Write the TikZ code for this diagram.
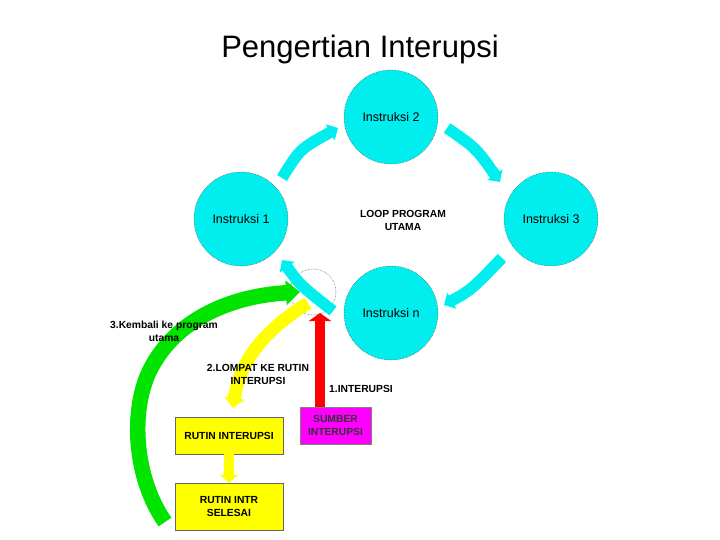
\documentclass[tikz,border=0pt]{standalone}
\usepackage{fontspec}
\setmainfont{Liberation Sans}
\usetikzlibrary{arrows.meta}
\definecolor{cy}{RGB}{0,238,238}
\definecolor{yel}{RGB}{255,255,0}
\definecolor{mag}{RGB}{255,0,255}
\definecolor{grn}{RGB}{0,228,0}
\definecolor{rd}{RGB}{255,0,0}
\begin{document}
\begin{tikzpicture}[x=1pt,y=-1pt,
  instr/.style={circle,fill=cy,draw=black!70,densely dotted,line width=0.5pt,minimum size=94pt,inner sep=0pt,font=\fontsize{12.5}{14}\selectfont},
  lbl/.style={font=\bfseries\fontsize{10.3}{13}\selectfont,align=center,inner sep=0pt},
  ybox/.style={fill=yel,draw=black!60,line width=0.4pt,minimum width=108pt,inner sep=0pt,align=center,font=\bfseries\fontsize{10.3}{13}\selectfont},
  cyarrow/.style={draw=cy,line width=11.5pt,-{Triangle[width=18pt,length=9pt]}},
]
\useasboundingbox (0,0) rectangle (720,540);
\fill[white] (0,0) rectangle (720,540);
\node (title) at (360,49) {\fontsize{31}{35}\selectfont Pengertian Interupsi};

% circles
\node[instr] (i2) at (391,117) {Instruksi 2};
\node[instr] (i1) at (241,219) {Instruksi 1};
\node[instr] (i3) at (551,219) {Instruksi 3};
\node[instr] (in) at (391,313) {Instruksi n};

% dotted marker
\node[circle,draw=black!70,densely dotted,line width=0.5pt,minimum size=46pt,inner sep=0pt] (mark) at (313,292) {};

% cyan loop arrows
\coordinate (a1s) at (282,178); \coordinate (a1e) at (338,128);
\coordinate (a2s) at (447,128); \coordinate (a2e) at (500,182);
\coordinate (a3s) at (502,258); \coordinate (a3e) at (444,305);
\coordinate (a4s) at (333,311); \coordinate (a4e) at (282,260);
\draw[cyarrow] (a1s) .. controls (300,149) .. (a1e);
\draw[cyarrow] (a2s) .. controls (476,148) .. (a2e);
\draw[cyarrow] (a3s) .. controls (471,290) .. (a3e);
\draw[cyarrow] (a4s) .. controls (300,285) .. (a4e);

% boxes
\node[ybox,minimum height=37pt] (rutin) at (229,435.5) {RUTIN INTERUPSI};
\node[ybox,minimum height=47pt] (selesai) at (229,506.5) {RUTIN INTR\\SELESAI};
\node[fill=mag,draw=black!50,line width=0.4pt,minimum width=71pt,minimum height=37pt,inner sep=0pt,align=center,font=\bfseries\fontsize{10.3}{13}\selectfont,text=black!80] (sumber) at (335.5,425.5) {SUMBER\\INTERUPSI};

% green arrow
\coordinate (g0) at (165,522);
\coordinate (gmid) at (150,370);
\coordinate (gtip) at (300,292);
\draw[draw=grn,line width=15.5pt,-{Triangle[width=24pt,length=14pt]}] (g0) .. controls (134,478) and (130,410) .. (gmid) .. controls (175,320) and (230,296) .. (gtip);

% yellow arrow
\coordinate (y0) at (308,303);
\coordinate (ytip) at (233,408);
\draw[draw=yel,line width=13pt,-{Triangle[width=20pt,length=10pt]}] (y0) .. controls (265,330) and (240,360) .. (ytip);

% yellow box arrow
\draw[draw=yel,line width=10pt,-{Triangle[width=18pt,length=8pt]}] (rutin.south) -- (selesai.north);

% red arrow
\coordinate (redtip) at (320,313);
\draw[draw=rd,line width=10pt,-{Triangle[width=22pt,length=8pt]}] (sumber.north -| redtip) -- (redtip);

% labels
\node[lbl] (l3) at (164,331) {3.Kembali ke program\\utama};
\node[lbl] (l2) at (258,374) {2.LOMPAT KE RUTIN\\INTERUPSI};
\node[lbl] (l1) at (361,389) {1.INTERUPSI};
\node[lbl] (loop) at (403,220) {LOOP PROGRAM\\UTAMA};
\end{tikzpicture}
\end{document}
